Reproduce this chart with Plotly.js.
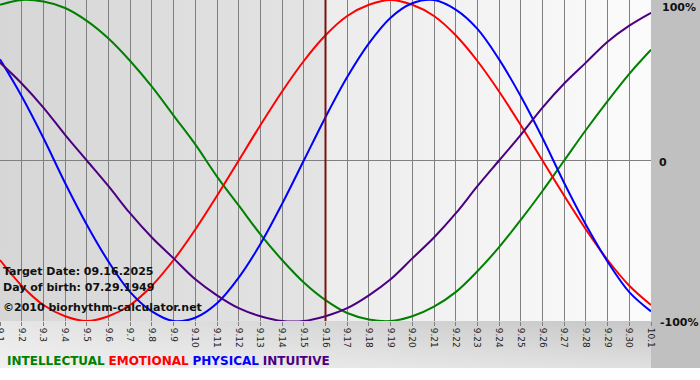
<!DOCTYPE html>
<html>
<head>
<meta charset="utf-8">
<script src="https://cdn.plot.ly/plotly-3.0.1.min.js"></script>
<style>html,body{margin:0;padding:0;background:#fff;}#chart{width:700px;height:380px;}</style>
</head>
<body>
<div id="chart"></div>
<script>
// Day labels (Sept 1 .. Oct 1, 2025)
const dayLabels = ['9.1','9.2','9.3','9.4','9.5','9.6','9.7','9.8','9.9','9.10','9.11','9.12','9.13','9.14','9.15','9.16','9.17','9.18','9.19','9.20','9.21','9.22','9.23','9.24','9.25','9.26','9.27','9.28','9.29','9.30','10.1'];

// Values (fraction of 100%)
const intellectual = [0.97,1.00,0.99,0.95,0.87,0.76,0.62,0.46,0.28,0.10,-0.10,-0.28,-0.46,-0.62,-0.76,-0.87,-0.95,-0.99,-1.00,-0.97,-0.91,-0.82,-0.69,-0.54,-0.37,-0.19,0.00,0.19,0.37,0.54,0.69];
const emotional = [-0.62,-0.78,-0.90,-0.97,-1.00,-0.97,-0.90,-0.78,-0.62,-0.43,-0.22,0.00,0.22,0.43,0.62,0.78,0.90,0.97,1.00,0.97,0.90,0.78,0.62,0.43,0.22,0.00,-0.22,-0.43,-0.62,-0.78,-0.90];
const physical = [0.63,0.40,0.14,-0.14,-0.40,-0.63,-0.82,-0.94,-1.00,-0.98,-0.89,-0.73,-0.52,-0.27,0.00,0.27,0.52,0.73,0.89,0.98,1.00,0.94,0.82,0.63,0.40,0.14,-0.14,-0.40,-0.63,-0.82,-0.94];
const intuitive = [0.61,0.48,0.33,0.16,0.00,-0.16,-0.33,-0.48,-0.61,-0.74,-0.84,-0.92,-0.97,-1.00,-1.00,-0.97,-0.92,-0.84,-0.74,-0.61,-0.48,-0.33,-0.16,0.00,0.16,0.33,0.48,0.61,0.74,0.84,0.92];

const yTickVals = [1, 0, -1];
const yTickText = ['100%', '0', '-100%'];
const targetDay = '9.16';
const infoLines = ['Target Date: 09.16.2025', 'Day of birth: 07.29.1949', '©2010 biorhythm-calculator.net'];
const seriesNames = ['INTELLECTUAL', 'EMOTIONAL', 'PHYSICAL', 'INTUITIVE'];

const colors = {INTELLECTUAL:'#008000', EMOTIONAL:'#ff0000', PHYSICAL:'#0000ff', INTUITIVE:'#4b0082'};
const seriesData = {INTELLECTUAL:intellectual, EMOTIONAL:emotional, PHYSICAL:physical, INTUITIVE:intuitive};

const traces = seriesNames.map(n => ({
  type:'scatter', mode:'lines', name:n, x:dayLabels, y:seriesData[n],
  line:{color:colors[n], width:2, shape:'spline', smoothing:1}, hoverinfo:'skip'
}));

// background svg (whole page), plot area = 651 x 321 px
const PW = 651, PH = 321;
const svg = '<svg xmlns="http://www.w3.org/2000/svg" width="700" height="380" viewBox="0 0 700 380" preserveAspectRatio="none">' +
  '<defs>' +
  '<linearGradient id="gl" x1="0" y1="0" x2="1" y2="0"><stop offset="0" stop-color="#d6d6d6"/><stop offset="1" stop-color="#e4e4e4"/></linearGradient>' +
  '<linearGradient id="gr" x1="0" y1="0" x2="1" y2="0"><stop offset="0" stop-color="#ececec"/><stop offset="1" stop-color="#fbfbfb"/></linearGradient>' +
  '<linearGradient id="gb" x1="0" y1="0" x2="1" y2="0"><stop offset="0" stop-color="#e6e6e6"/><stop offset="1" stop-color="#c4c4c4"/></linearGradient>' +
  '<linearGradient id="gv" x1="0" y1="0" x2="0" y2="1"><stop offset="0" stop-color="#ffffff" stop-opacity="0"/><stop offset="1" stop-color="#ffffff" stop-opacity="0.45"/></linearGradient>' +
  '</defs>' +
  '<rect x="0" y="0" width="700" height="380" fill="#ffffff"/>' +
  '<rect x="0" y="321" width="700" height="47" fill="url(#gb)"/>' +
  '<rect x="0" y="321" width="651" height="47" fill="url(#gv)"/>' +
  '<rect x="651" y="0" width="49" height="368" fill="#c0c0c0"/>' +
  '<rect x="0" y="0" width="325.5" height="321" fill="url(#gl)"/>' +
  '<rect x="325.5" y="0" width="325.5" height="321" fill="url(#gr)"/>' +
  '</svg>';
const bgSrc = 'data:image/svg+xml;charset=utf-8,' + encodeURIComponent(svg);

const py = px => 1 - px / PH;  // pixel y -> paper y

const annotations = [];
// y-axis labels on the right
const yLabelShift = [{dy:-7, dx:9}, {dy:-2, dx:6}, {dy:-1, dx:7}];
yTickVals.forEach((v, i) => {
  annotations.push({
    xref:'paper', yref:'y', x:1, y:v, xanchor:'left', yanchor:'middle',
    xshift:yLabelShift[i].dx, yshift:yLabelShift[i].dy, showarrow:false,
    text:'<b>' + yTickText[i] + '</b>',
    font:{family:'DejaVu Sans', size:11, color:'#111'}
  });
});
// info text
const infoY = [271, 287, 307];
infoLines.forEach((t, i) => {
  annotations.push({
    xref:'paper', yref:'paper', x:0, y:py(infoY[i]), xanchor:'left', yanchor:'middle',
    xshift:1, showarrow:false, text:'<b>' + t + '</b>',
    font:{family:'DejaVu Sans', size:11, color:'#111'}
  });
});
// legend text
annotations.push({
  xref:'paper', yref:'paper', x:0, y:py(361), xanchor:'left', yanchor:'middle', xshift:5,
  showarrow:false,
  text: seriesNames.map(n => '<span style="color:' + colors[n] + '"><b>' + n + '</b></span>').join(' '),
  font:{family:'DejaVu Sans', size:12}
});

const targetIndex = dayLabels.indexOf(targetDay);

const layout = {
  width:700, height:380,
  margin:{l:0, r:49, t:0, b:59, pad:0},
  paper_bgcolor:'rgba(0,0,0,0)', plot_bgcolor:'rgba(0,0,0,0)',
  showlegend:false,
  xaxis:{
    type:'category', range:[0, 30], tickmode:'array', tickvals:dayLabels, ticktext:dayLabels,
    tickangle:90, showgrid:true, gridcolor:'#808080', gridwidth:1,
    ticks:'outside', ticklen:4, tickcolor:'#808080',
    tickfont:{family:'DejaVu Sans', size:9, color:'#222'},
    showline:false, zeroline:false, fixedrange:true
  },
  yaxis:{
    range:[-1, 1], showgrid:false, zeroline:true, zerolinecolor:'#808080', zerolinewidth:1,
    showticklabels:false, ticks:'', showline:false, fixedrange:true
  },
  images:[{
    source:bgSrc, xref:'paper', yref:'paper', x:0, y:1,
    sizex:700 / PW, sizey:380 / PH, xanchor:'left', yanchor:'top',
    sizing:'stretch', layer:'below'
  }],
  shapes:[{
    type:'line', xref:'x', yref:'paper', x0:targetIndex, x1:targetIndex, y0:0, y1:1,
    line:{color:'#7a1212', width:2}, layer:'above'
  }],
  annotations:annotations
};

Plotly.newPlot('chart', traces, layout, {staticPlot:true, displayModeBar:false});
</script>
</body>
</html>
